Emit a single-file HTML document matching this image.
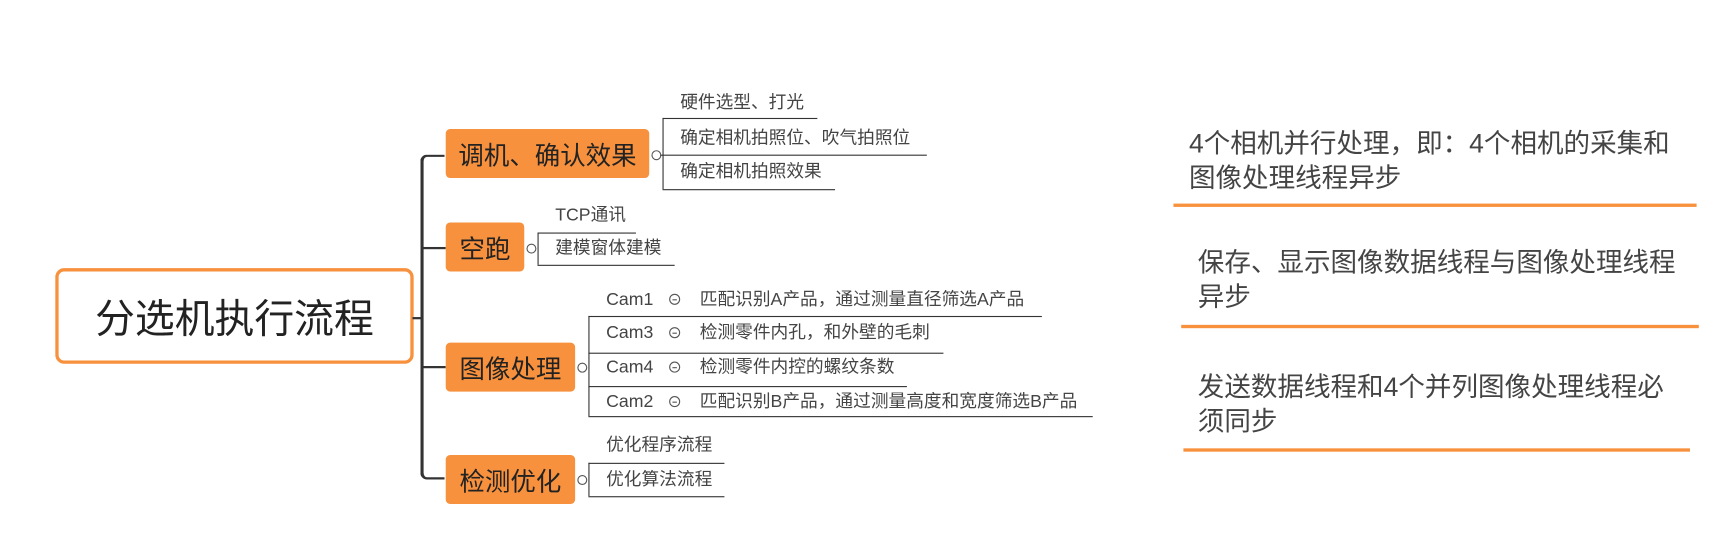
<!DOCTYPE html>
<html><head><meta charset="utf-8"><style>
html,body{margin:0;padding:0;background:#fff;width:1735px;height:534px;overflow:hidden}
#w{position:absolute;left:0;top:0;width:1560px;height:480px;transform:scale(1.106,1.1125);transform-origin:0 0;font-family:"Liberation Sans","Noto Sans CJK SC",sans-serif;color:#333}
.a{position:absolute;white-space:nowrap}
.box{position:absolute;background:#F7913D;border-radius:4px;font-size:23px;color:#222;display:flex;align-items:center;justify-content:center}
.h{position:absolute;height:1px;background:#333}
.v{position:absolute;width:1px;background:#333}
.c{position:absolute;width:7px;height:7px;border:1px solid #555;border-radius:50%;background:#fff}
.t{position:absolute;font-size:16px;color:#444;white-space:nowrap;line-height:18px}
.s{display:inline-block;width:8px;height:8px;border:1px solid #555;border-radius:50%;margin:0 18px 1px 14px;vertical-align:middle;position:relative}
.s:after{content:"";position:absolute;left:2px;top:3.5px;width:4px;height:1px;background:#555}
.n{position:absolute;font-size:24px;color:#444;line-height:31px;white-space:nowrap}
.o{position:absolute;height:3px;background:#F7913D}
</style></head><body><div id="w">
<div class="a" style="left:50px;top:241px;width:318px;height:80px;border:3px solid #F7913D;border-radius:8px;font-size:36px;color:#222;display:flex;align-items:center;justify-content:center">分选机执行流程</div>
<div class="a" style="left:373px;top:285px;width:8px;height:2px;background:#333"></div>
<div class="a" style="left:380px;top:139px;width:22px;height:292px;border-left:3px solid #333;border-top:2px solid #333;border-bottom:2px solid #333;border-radius:6px 0 0 6px;box-sizing:border-box;border-right:none"></div>
<div class="a" style="left:381px;top:222px;width:22px;height:2px;background:#333"></div>
<div class="a" style="left:381px;top:329px;width:22px;height:2px;background:#333"></div>

<div class="box" style="left:403px;top:116px;width:184px;height:44px">调机、确认效果</div>
<div class="box" style="left:403px;top:200px;width:71px;height:44px">空跑</div>
<div class="box" style="left:403px;top:308px;width:117px;height:44px">图像处理</div>
<div class="box" style="left:403px;top:409px;width:117px;height:44px">检测优化</div>

<div class="c" style="left:589px;top:135px"></div>
<div class="c" style="left:476px;top:219px"></div>
<div class="c" style="left:522px;top:326px"></div>
<div class="c" style="left:522px;top:427px"></div>

<div class="v" style="left:599px;top:106px;height:64px"></div>
<div class="t" style="left:615px;top:84px">硬件选型、打光</div><div class="h" style="left:599px;top:106px;width:140px"></div>
<div class="t" style="left:615px;top:116px">确定相机拍照位、吹气拍照位</div><div class="h" style="left:597px;top:139px;width:241px"></div>
<div class="t" style="left:615px;top:146px">确定相机拍照效果</div><div class="h" style="left:599px;top:170px;width:156px"></div>

<div class="v" style="left:486px;top:209px;height:29px"></div>
<div class="t" style="left:502px;top:185px">TCP通讯</div><div class="h" style="left:486px;top:209px;width:89px"></div>
<div class="t" style="left:502px;top:215px">建模窗体建模</div><div class="h" style="left:486px;top:238px;width:124px"></div>

<div class="v" style="left:532px;top:284px;height:90px"></div>
<div class="t" style="left:548px;top:261px">Cam1<span class="s"></span>匹配识别A产品，通过测量直径筛选A产品</div><div class="h" style="left:532px;top:284px;width:410px"></div>
<div class="t" style="left:548px;top:291px">Cam3<span class="s"></span>检测零件内孔，和外壁的毛刺</div><div class="h" style="left:532px;top:317px;width:321px"></div>
<div class="t" style="left:548px;top:322px">Cam4<span class="s"></span>检测零件内控的螺纹条数</div><div class="h" style="left:532px;top:347px;width:288px"></div>
<div class="t" style="left:548px;top:353px">Cam2<span class="s"></span>匹配识别B产品，通过测量高度和宽度筛选B产品</div><div class="h" style="left:532px;top:374px;width:456px"></div>

<div class="v" style="left:532px;top:416px;height:30px"></div>
<div class="t" style="left:548px;top:392px">优化程序流程</div><div class="h" style="left:532px;top:416px;width:123px"></div>
<div class="t" style="left:548px;top:423px">优化算法流程</div><div class="h" style="left:532px;top:446px;width:123px"></div>

<div class="n" style="left:1075px;top:114px">4个相机并行处理，即：4个相机的采集和<br>图像处理线程异步</div>
<div class="o" style="left:1061px;top:183px;width:473px"></div>
<div class="n" style="left:1083px;top:221px">保存、显示图像数据线程与图像处理线程<br>异步</div>
<div class="o" style="left:1068px;top:292px;width:468px"></div>
<div class="n" style="left:1083px;top:333px">发送数据线程和4个并列图像处理线程必<br>须同步</div>
<div class="o" style="left:1070px;top:403px;width:458px"></div>
</div></body></html>
